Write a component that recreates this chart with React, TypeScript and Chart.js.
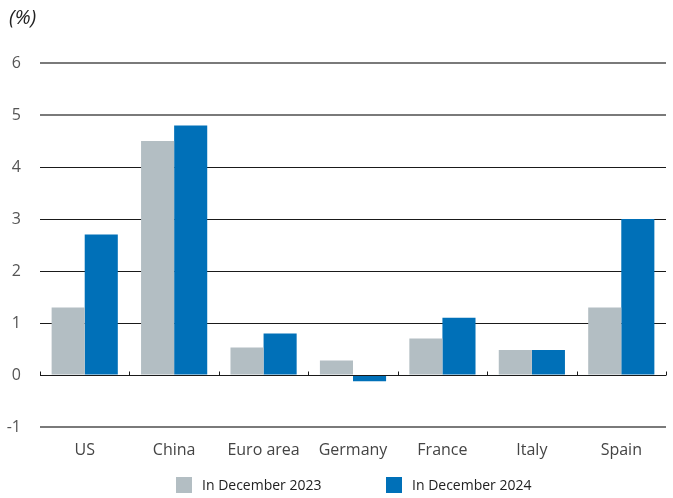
import React, { useEffect, useRef } from "react";
import { Chart, registerables } from "chart.js";

Chart.register(...registerables);

const categories = ["US", "China", "Euro area", "Germany", "France", "Italy", "Spain"];
const dec2023 = [1.3, 4.5, 0.53, 0.28, 0.7, 0.48, 1.3];
const dec2024 = [2.7, 4.8, 0.8, -0.12, 1.1, 0.48, 3.0];
const seriesLabels = ["In December 2023", "In December 2024"];
const seriesColors = ["#b3bec3", "#0070b8"];
const yMin = -1;
const yMax = 6;
const unitLabel = "(%)";

const FONT = "'Open Sans', 'Noto Sans', sans-serif";

const extrasPlugin = {
  id: "extras",
  afterDatasetsDraw(chart: any) {
    const { ctx, chartArea } = chart;
    const y0 = Math.round(chart.scales.y.getPixelForValue(0)) + 0.5;
    ctx.save();
    ctx.strokeStyle = "#1a1a1a";
    ctx.lineWidth = 1;
    ctx.beginPath();
    ctx.moveTo(chartArea.left, y0);
    ctx.lineTo(chartArea.right, y0);
    const n = categories.length;
    const w = (chartArea.right - chartArea.left) / n;
    for (let i = 0; i <= n; i++) {
      const x = Math.round(chartArea.left + i * w) + 0.5;
      ctx.moveTo(x, y0);
      ctx.lineTo(x, y0 - 4);
    }
    ctx.stroke();
    ctx.restore();
  },
  afterDraw(chart: any) {
    const { ctx } = chart;
    ctx.save();
    ctx.fillStyle = "#222";
    ctx.font = `italic 20px ${FONT}`;
    ctx.textBaseline = "middle";
    ctx.textAlign = "left";
    ctx.fillText(unitLabel, 9, 18);

    // legend
    ctx.font = `14px ${FONT}`;
    const boxes = [176, 386];
    seriesLabels.forEach((lab, i) => {
      ctx.fillStyle = seriesColors[i];
      ctx.fillRect(boxes[i], 477, 16, 16);
      ctx.fillStyle = "#222";
      ctx.fillText(lab, boxes[i] + 26, 486);
    });
    ctx.restore();
  },
};

export default function App() {
  const ref = useRef<HTMLCanvasElement | null>(null);
  useEffect(() => {
    if (!ref.current) return;
    const chart = new Chart(ref.current, {
      type: "bar",
      data: {
        labels: categories,
        datasets: [
          {
            label: seriesLabels[0],
            data: dec2023,
            backgroundColor: seriesColors[0],
            categoryPercentage: 0.74,
            barPercentage: 1,
          },
          {
            label: seriesLabels[1],
            data: dec2024,
            backgroundColor: seriesColors[1],
            categoryPercentage: 0.74,
            barPercentage: 1,
          },
        ],
      },
      options: {
        animation: false,
        responsive: true,
        maintainAspectRatio: false,
        layout: { padding: { top: 63, bottom: 33, left: 0, right: 7 } },
        plugins: {
          legend: { display: false },
          tooltip: { enabled: false },
        },
        scales: {
          x: {
            grid: { display: false, drawTicks: false },
            border: { display: false },
            ticks: {
              color: "#444",
              font: { family: FONT, size: 16 },
              padding: 14,
            },
            afterFit: (s: any) => {
              s.height = 38;
            },
          },
          y: {
            min: yMin,
            max: yMax,
            grid: {
              drawTicks: false,
              color: (c: any) => {
                const v = c.tick?.value;
                if (v === 0) return "rgba(0,0,0,0)";
                if (v === 6 || v === 5 || v === -1) return "#7a7a7a";
                return "#1a1a1a";
              },
              lineWidth: (c: any) => {
                const v = c.tick?.value;
                if (v === 6 || v === 5 || v === -1) return 2;
                return 1;
              },
            },
            border: { display: false },
            ticks: {
              stepSize: 1,
              color: "#555",
              font: { family: FONT, size: 16 },
              padding: 19,
            },
            afterFit: (s: any) => {
              s.width = 40;
            },
          },
        },
      },
      plugins: [extrasPlugin],
    });
    return () => chart.destroy();
  }, []);
  return (
    <div style={{ position: "fixed", left: 0, top: 0, width: 673, height: 498, background: "#fff" }}>
      <canvas ref={ref} />
    </div>
  );
}
